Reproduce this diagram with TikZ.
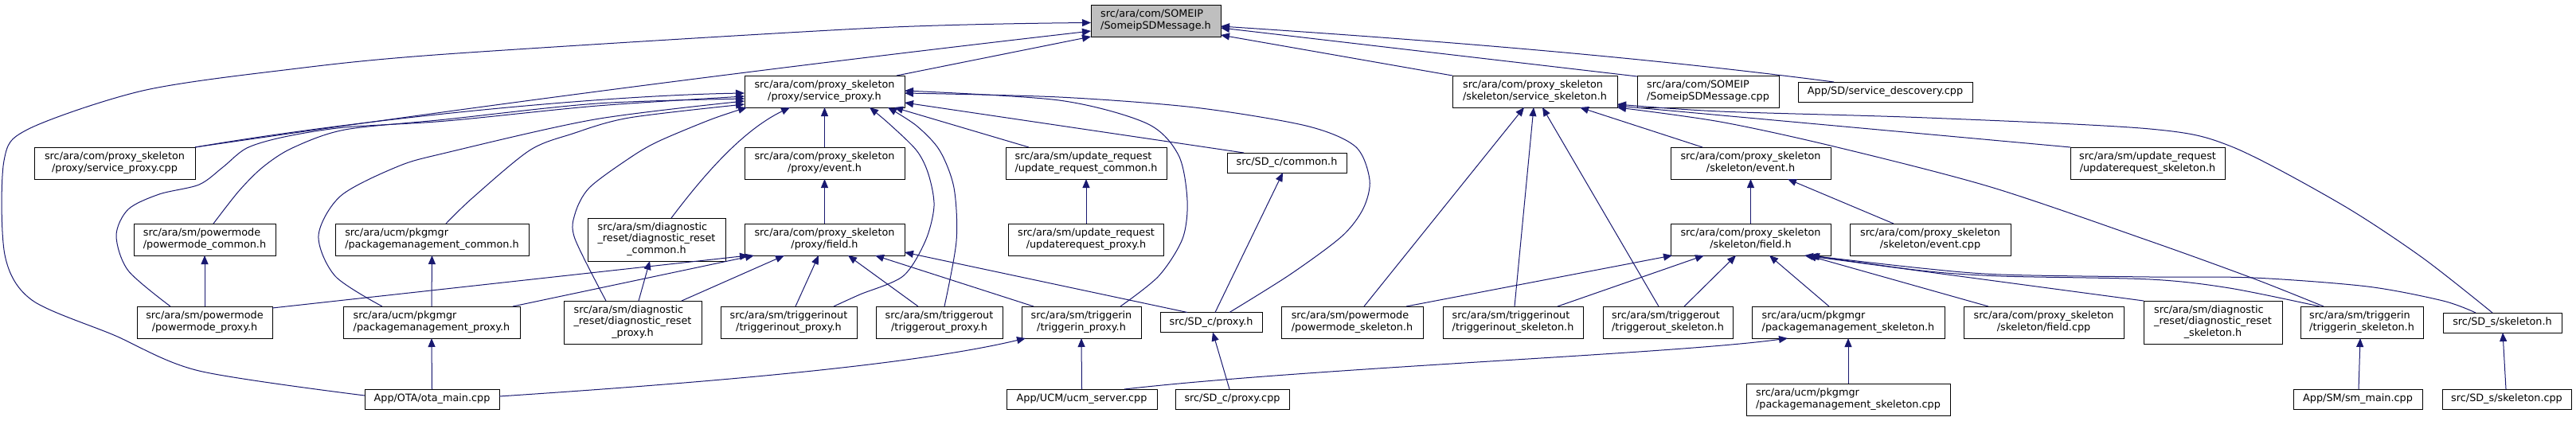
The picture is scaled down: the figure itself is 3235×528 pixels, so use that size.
\documentclass[tikz,border=0pt]{standalone}
\usepackage{fontspec}
\setmainfont{DejaVu Sans}
\usetikzlibrary{arrows.meta,calc}
\definecolor{edgeblue}{RGB}{25,25,112}
\definecolor{mgray}{RGB}{191,191,191}
\newcommand{\dxfont}{\fontsize{12.8}{14.8}\selectfont}
\newcommand{\lbtwo}[2]{\begin{tabular}{@{}l@{}}#1\\\multicolumn{1}{@{}c@{}}{#2}\end{tabular}}
\newcommand{\lbthree}[3]{\begin{tabular}{@{}l@{}}#1\\#2\\\multicolumn{1}{@{}c@{}}{#3}\end{tabular}}
\tikzset{
  box/.style={draw=black, line width=1pt, inner sep=0pt, outer sep=0pt, font=\dxfont, align=center, fill=white},
  two/.style={box, minimum height=40pt},
  one/.style={box, minimum height=25pt},
  three/.style={box, minimum height=54pt},
  conn/.style={draw=edgeblue, line width=1pt, -{Triangle[length=11pt,width=9pt]}},
}
\begin{document}
\begin{tikzpicture}[x=1pt,y=-1pt]
\useasboundingbox (0,0) rectangle (3235,528);
\fill[white] (0,0) rectangle (3235,528);
% row 1
\node[two,minimum width=163pt,fill=mgray] (M) at (1451.5,26) {\lbtwo{src/ara/com/SOMEIP}{/SomeipSDMessage.h}};
% row 2
\node[two,minimum width=201pt] (P) at (1035.5,115) {\lbtwo{src/ara/com/proxy\_skeleton}{/proxy/service\_proxy.h}};
\node[two,minimum width=207pt] (S) at (1927.5,115) {\lbtwo{src/ara/com/proxy\_skeleton}{/skeleton/service\_skeleton.h}};
\node[two,minimum width=178pt] (Mcpp) at (2145,115) {\lbtwo{src/ara/com/SOMEIP}{/SomeipSDMessage.cpp}};
\node[one,minimum width=219pt] (SDdisc) at (2367.5,115.5) {App/SD/service\_descovery.cpp};
% row 3
\node[two,minimum width=202pt] (spcpp) at (144,205) {\lbtwo{src/ara/com/proxy\_skeleton}{/proxy/service\_proxy.cpp}};
\node[two,minimum width=201pt] (pevent) at (1035.5,205) {\lbtwo{src/ara/com/proxy\_skeleton}{/proxy/event.h}};
\node[two,minimum width=202pt] (urc) at (1364,205) {\lbtwo{src/ara/sm/update\_request}{/update\_request\_common.h}};
\node[one,minimum width=150pt] (SDcc) at (1616,204.5) {src/SD\_c/common.h};
\node[two,minimum width=201pt] (sevent) at (2198.5,205) {\lbtwo{src/ara/com/proxy\_skeleton}{/skeleton/event.h}};
\node[two,minimum width=194pt] (urs) at (2697,205) {\lbtwo{src/ara/sm/update\_request}{/updaterequest\_skeleton.h}};
% row 4
\node[two,minimum width=178pt] (pmc) at (257,301) {\lbtwo{src/ara/sm/powermode}{/powermode\_common.h}};
\node[two,minimum width=243pt] (pkc) at (542.5,301) {\lbtwo{src/ara/ucm/pkgmgr}{/packagemanagement\_common.h}};
\node[three,minimum width=173pt] (drc) at (824.5,301) {\lbthree{src/ara/sm/diagnostic}{\_reset/diagnostic\_reset}{\_common.h}};
\node[two,minimum width=201pt] (pfield) at (1035.5,301) {\lbtwo{src/ara/com/proxy\_skeleton}{/proxy/field.h}};
\node[two,minimum width=195pt] (urp) at (1364,301) {\lbtwo{src/ara/sm/update\_request}{/updaterequest\_proxy.h}};
\node[two,minimum width=201pt] (sfield) at (2198.5,301) {\lbtwo{src/ara/com/proxy\_skeleton}{/skeleton/field.h}};
\node[two,minimum width=202pt] (secpp) at (2424,301) {\lbtwo{src/ara/com/proxy\_skeleton}{/skeleton/event.cpp}};
% row 5
\node[two,minimum width=170pt] (pmp) at (257,405) {\lbtwo{src/ara/sm/powermode}{/powermode\_proxy.h}};
\node[two,minimum width=222pt] (pkp) at (542,405) {\lbtwo{src/ara/ucm/pkgmgr}{/packagemanagement\_proxy.h}};
\node[three,minimum width=173pt] (drp) at (794.5,405) {\lbthree{src/ara/sm/diagnostic}{\_reset/diagnostic\_reset}{\_proxy.h}};
\node[two,minimum width=171pt] (tiop) at (990.5,405) {\lbtwo{src/ara/sm/triggerinout}{/triggerinout\_proxy.h}};
\node[two,minimum width=159pt] (top) at (1179.5,405) {\lbtwo{src/ara/sm/triggerout}{/triggerout\_proxy.h}};
\node[two,minimum width=150pt] (tip) at (1358,405) {\lbtwo{src/ara/sm/triggerin}{/triggerin\_proxy.h}};
\node[one,minimum width=128pt] (SDcp) at (1521,405) {src/SD\_c/proxy.h};
\node[two,minimum width=178pt] (pms) at (1698,405) {\lbtwo{src/ara/sm/powermode}{/powermode\_skeleton.h}};
\node[two,minimum width=176pt] (tios) at (1900,405) {\lbtwo{src/ara/sm/triggerinout}{/triggerinout\_skeleton.h}};
\node[two,minimum width=163pt] (tos) at (2094.5,405) {\lbtwo{src/ara/sm/triggerout}{/triggerout\_skeleton.h}};
\node[two,minimum width=242pt] (pks) at (2321,405) {\lbtwo{src/ara/ucm/pkgmgr}{/packagemanagement\_skeleton.h}};
\node[two,minimum width=201pt] (sfcpp) at (2566.5,405) {\lbtwo{src/ara/com/proxy\_skeleton}{/skeleton/field.cpp}};
\node[three,minimum width=174pt] (drs) at (2779,405) {\lbthree{src/ara/sm/diagnostic}{\_reset/diagnostic\_reset}{\_skeleton.h}};
\node[two,minimum width=154pt] (tis) at (2966,405) {\lbtwo{src/ara/sm/triggerin}{/triggerin\_skeleton.h}};
\node[one,minimum width=149pt] (SDsh) at (3142.5,405.5) {src/SD\_s/skeleton.h};
% row 6
\node[one,minimum width=169pt] (ota) at (542.5,501.5) {App/OTA/ota\_main.cpp};
\node[one,minimum width=189pt] (ucm) at (1358.5,501.5) {App/UCM/ucm\_server.cpp};
\node[one,minimum width=143pt] (SDcpp) at (1547.5,501.5) {src/SD\_c/proxy.cpp};
\node[two,minimum width=256pt] (pkscpp) at (2321,502) {\lbtwo{src/ara/ucm/pkgmgr}{/packagemanagement\_skeleton.cpp}};
\node[one,minimum width=162pt] (sm) at (2961,501.5) {App/SM/sm\_main.cpp};
\node[one,minimum width=162pt] (SDscpp) at (3148,501.5) {src/SD\_s/skeleton.cpp};

% ---- edges into M
\draw[conn] plot[smooth] coordinates {($(ota.north west)+(0,8)$) (250,466) (143,421) (40,377) (6,320) (5,202) (36,162) (179,114) (357,88) (560,68) (1100,35) ($(M.north west)+(0,22.5)$)};
\draw[conn] (spcpp.north east) .. controls (620,130) and (995,82) .. ($(M.north west)+(0,33)$);
\draw[conn] ($(P.north west)+(191,0)$) -- (M.south west);
\draw[conn] (S.north west) -- ($(M.north east)+(0,38)$);
\draw[conn] ($(Mcpp.north west)+(0,1)$) -- ($(M.north east)+(0,29)$);
\draw[conn] ($(SDdisc.north west)+(45,0)$) .. controls (2050,70) and (1790,50) .. ($(M.north east)+(0,27)$);
% ---- edges into P
\draw[conn] (spcpp.north east) .. controls (450,150) and (750,120) .. ($(P.north west)+(0,22)$);
\draw[conn] plot[smooth] coordinates {($(pmp.north west)+(42,0)$) (161,340) (146,296) (161,263) (200,244) (250,232) (280,210) (310,186) (357,172) (433,160) (560,152) (750,133) ($(P.north west)+(0,26)$)};
\draw[conn] plot[smooth] coordinates {($(pmc.north west)+(100,0)$) (300,240) (330,210) (367,186) (433,163) (560,150) (750,130) ($(P.north west)+(0,29)$)};
\draw[conn] plot[smooth] coordinates {($(pkp.north west)+(49,0)$) (421,347) (400,296) (428,246) (500,209) (560,192) (747,150) ($(P.north west)+(0,32)$)};
\draw[conn] plot[smooth] coordinates {($(pkc.north west)+(139,0)$) (593,249) (665,189) (719,168) (790,148) ($(P.north west)+(0,36)$)};
\draw[conn] plot[smooth] coordinates {($(drp.north west)+(53,0)$) (722,300) (722,269) (740,236) (790,199) (826,178) (893,150) ($(P.north west)+(3,40)$)};
\draw[conn] ($(drc.north west)+(105,0)$) .. controls (880,225) and (930,165) .. ($(P.north west)+(57,40)$);
\draw[conn] (pevent.north) -- (P.south);
\draw[conn] ($(urc.north west)+(29,0)$) -- ($(P.north west)+(188,40)$);
\draw[conn] ($(SDcc.north west)+(21,0)$) -- ($(P.north east)+(0,34)$);
\draw[conn] plot[smooth] coordinates {($(SDcp.north west)+(87,0)$) (1620,345) (1685,297) (1712,262) (1720,226) (1702,184) (1640,158) (1500,135) (1330,122) ($(P.north east)+(0,22)$)};
\draw[conn] plot[smooth] coordinates {($(tip.north west)+(124,0)$) (1455,347) (1485,300) (1491,252) (1480,195) (1440,155) (1330,126) ($(P.north east)+(0,19)$)};
\draw[conn] plot[smooth] coordinates {($(top.north west)+(86,0)$) (1201,303) (1198,236) (1180,189) (1151,158) ($(P.north west)+(180,40)$)};
\draw[conn] plot[smooth] coordinates {($(tiop.north west)+(142,0)$) (1080,370) (1134,347) (1162,303) (1173,259) (1166,219) (1151,189) (1116,155) ($(P.north west)+(157,40)$)};
% ---- edges into proxy field
\draw[conn] (pfield.north) -- (pevent.south);
\draw[conn] ($(pmp.north east)+(0,2)$) -- ($(pfield.south west)+(5,0)$);
\draw[conn] ($(pkp.north west)+(213,0)$) -- ($(pfield.south west)+(12,0)$);
\draw[conn] ($(drp.north west)+(148,0)$) -- ($(pfield.south west)+(50,0)$);
\draw[conn] ($(tiop.north west)+(94,0)$) -- ($(pfield.south west)+(93,0)$);
\draw[conn] ($(top.north west)+(53,0)$) -- ($(pfield.south west)+(130,0)$);
\draw[conn] ($(tip.north west)+(15,0)$) -- ($(pfield.south east)+(-37,0)$);
\draw[conn] ($(SDcp.north west)+(34,0)$) -- ($(pfield.north east)+(0,36)$);
% ---- other proxy side
\draw[conn] (urp.north) -- (urc.south);
\draw[conn] ($(SDcp.north west)+(69,0)$) -- ($(SDcc.south west)+(70,0)$);
\draw[conn] ($(SDcpp.north west)+(68,0)$) -- ($(SDcp.south west)+(66,0)$);
\draw[conn] (ucm.north) -- (tip.south);
\draw[conn] ($(ucm.north west)+(148,0)$) .. controls (1650,462) and (2100,445) .. ($(pks.south west)+(45,0)$);
\draw[conn] ($(ota.north east)+(0,9)$) .. controls (900,480) and (1150,458) .. ($(tip.south west)+(5,0)$);
\draw[conn] (ota.north) -- (pkp.south);
\draw[conn] (pmp.north) -- (pmc.south);
\draw[conn] (pkp.north) -- (pkc.south);
\draw[conn] ($(drp.north west)+(94,0)$) -- ($(drc.south west)+(78,0)$);
% ---- edges into S
\draw[conn] ($(pms.north west)+(104,0)$) -- ($(S.south west)+(90,0)$);
\draw[conn] ($(tios.north west)+(90,0)$) -- ($(S.south west)+(102,0)$);
\draw[conn] ($(tos.north west)+(70,0)$) -- ($(S.south west)+(113,0)$);
\draw[conn] ($(sevent.north west)+(40,0)$) -- ($(S.south west)+(160,0)$);
\draw[conn] (urs.north west) -- ($(S.south east)+(0,-2)$);
\draw[conn] plot[smooth] coordinates {($(tis.north west)+(29,0)$) (2830,350) (2700,303) (2500,235) (2303,184) (2160,153) (S.south east)};
\draw[conn] plot[smooth] coordinates {($(SDsh.north west)+(62,0)$) (3041,323) (2939,256) (2802,184) (2700,162) (2420,148) (2160,140) ($(S.south east)+(0,-4)$)};
% ---- skeleton event / field
\draw[conn] (sfield.north) -- (sevent.south);
\draw[conn] ($(secpp.north west)+(55,0)$) -- ($(sevent.south west)+(147,0)$);
\draw[conn] ($(pms.north west)+(157,0)$) -- ($(sfield.south west)+(2,0)$);
\draw[conn] ($(tios.north west)+(144,0)$) -- ($(sfield.south west)+(42,0)$);
\draw[conn] ($(tos.north west)+(102,0)$) -- ($(sfield.south west)+(82,0)$);
\draw[conn] ($(pks.north west)+(97,0)$) -- ($(sfield.south west)+(124,0)$);
\draw[conn] ($(sfcpp.north west)+(31,0)$) -- ($(sfield.south west)+(172,0)$);
\draw[conn] (drs.north west) -- ($(sfield.south west)+(168,0)$);
\draw[conn] plot[smooth] coordinates {($(tis.north west)+(24,0)$) (2800,362) (2700,351) (2513,347) (2413,340) ($(sfield.south west)+(176,0)$)};
\draw[conn] plot[smooth] coordinates {($(SDsh.north west)+(41,0)$) (3068,378) (2973,360) (2830,349) (2700,348) (2513,345) (2413,337) ($(sfield.south west)+(174,0)$)};
% ---- bottom
\draw[conn] (pkscpp.north) -- (pks.south);
\draw[conn] ($(sm.north west)+(82,0)$) -- ($(tis.south west)+(75,0)$);
\draw[conn] ($(SDscpp.north west)+(80,0)$) -- ($(SDsh.south west)+(75,0)$);
\end{tikzpicture}
\end{document}
